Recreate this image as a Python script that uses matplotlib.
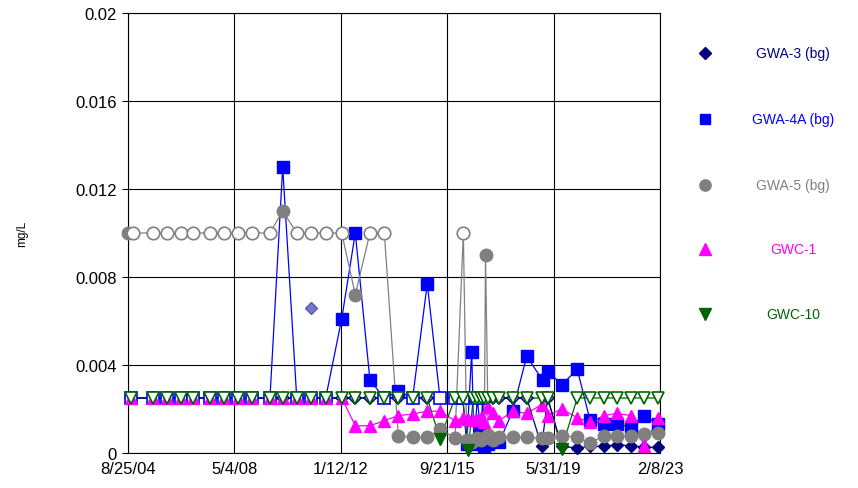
import pandas as pd
import numpy as np
import matplotlib
matplotlib.use("Agg")
import matplotlib.pyplot as plt

plt.rcParams['font.family'] = ['Liberation Sans', 'DejaVu Sans']

# ---- Data (mg/L), nd = 1 means non-detect (hollow marker) ----
early_dates = ['2004-10-05', '2005-07-12', '2005-12-28', '2006-06-24', '2006-11-30',
               '2007-06-30', '2007-12-24', '2008-06-23', '2008-12-17', '2009-07-29',
               '2010-01-06', '2010-07-03', '2010-12-31', '2011-07-05', '2012-01-24',
               '2012-07-14', '2013-01-16', '2013-07-17', '2014-01-10', '2014-07-11',
               '2015-01-12', '2015-06-22', '2015-12-29']
late_dates = ['2016-04-05', '2016-06-15', '2016-08-17', '2016-10-07', '2016-11-19',
              '2017-01-04', '2017-02-23', '2017-04-20', '2017-07-13', '2017-12-29',
              '2018-06-25', '2019-01-01', '2019-03-18', '2019-09-11', '2020-03-27',
              '2020-09-04', '2021-02-28', '2021-08-12', '2022-02-06', '2022-07-20',
              '2023-01-18']

# GWA-3 (bg)
gwa3_dates = early_dates + late_dates
gwa3_vals = [0.0025] * 23 + [0.0025] * 11 + [0.0003, 0.0025, 0.0003, 0.00023, 0.0003,
                                            0.0003, 0.00038, 0.00033, 0.00026, 0.00026]
gwa3_nd = [1] * 23 + [1] * 11 + [0, 1, 0, 0, 0, 0, 0, 0, 0, 0]
gwa3_flag_dates = ['2010-12-31']
gwa3_flag_vals = [0.0066]

# GWA-4A (bg)
gwa4a_dates = early_dates + ['2016-04-05', '2016-05-26', '2016-07-28', '2016-08-26', '2016-10-07',
                             '2016-11-19', '2016-12-15', '2017-01-04', '2017-02-23', '2017-04-20',
                             '2017-07-13', '2017-12-29', '2018-06-25', '2019-01-14', '2019-03-26',
                             '2019-09-11', '2020-03-27', '2020-09-04', '2021-02-28', '2021-08-12',
                             '2022-02-06', '2022-07-20', '2023-01-18']
gwa4a_vals = [0.0025] * 10 + [0.013, 0.0025, 0.0025, 0.0025, 0.0061, 0.01, 0.0033, 0.0025,
                              0.0028, 0.0025, 0.0077, 0.0025, 0.0025] + \
             [0.0025, 0.0004, 0.0046, 0.0004, 0.0025, 0.0009, 0.0025, 0.0003, 0.0004, 0.0006,
              0.0005, 0.0019, 0.0044, 0.0033, 0.0037, 0.0031, 0.0038, 0.0015, 0.0013, 0.0013,
              0.0012, 0.0017, 0.0013]
gwa4a_nd = [1] * 10 + [0, 1, 1, 1, 0, 0, 0, 1, 0, 1, 0, 1, 1] + \
           [1, 0, 0, 0, 1, 0, 1] + [0] * 16

# GWA-5 (bg)
gwa5_dates = ['2004-08-25', '2004-10-31', '2005-07-12', '2005-12-28', '2006-06-24', '2006-11-30',
              '2007-06-30', '2007-12-24', '2008-06-23', '2008-12-17', '2009-07-29', '2010-01-06',
              '2010-07-03', '2010-12-31', '2011-07-05', '2012-01-24', '2012-07-14', '2013-01-16',
              '2013-07-17', '2014-01-10', '2014-07-11', '2015-01-12', '2015-06-22', '2015-12-29',
              '2016-04-13', '2016-05-26', '2016-07-28', '2016-08-26', '2016-10-07', '2016-11-19',
              '2017-01-04', '2017-01-19', '2017-02-23', '2017-04-20', '2017-07-13', '2017-12-29',
              '2018-06-25', '2019-01-01', '2019-03-18', '2019-09-11', '2020-03-27', '2020-09-04',
              '2021-02-28', '2021-08-12', '2022-02-06', '2022-07-20', '2023-01-18']
gwa5_vals = [0.01] * 11 + [0.011, 0.01, 0.01, 0.01, 0.01, 0.0072, 0.01, 0.01,
                           0.00079, 0.00071, 0.00071, 0.0011, 0.00067, 0.01,
                           0.0006, 0.0005, 0.0006, 0.0007, 0.0006, 0.0007, 0.009, 0.0008,
                           0.0006, 0.00071, 0.00071, 0.00071, 0.00067, 0.00067, 0.00079,
                           0.00071, 0.00045, 0.00079, 0.00079, 0.00076, 0.00086, 0.00091]
gwa5_nd = [0] + [1] * 10 + [0, 1, 1, 1, 1, 0, 1, 1] + [0] * 5 + [1] + [0] * 22

# GWC-1
gwc1_dates = early_dates + late_dates
gwc1_vals = [0.0025] * 15 + [0.00124, 0.00124, 0.00147, 0.0017, 0.00177, 0.0019, 0.0019, 0.00147] + \
            [0.0016, 0.00155, 0.0015, 0.0015, 0.0016, 0.0014, 0.0021, 0.0018, 0.00147, 0.0019,
             0.0018, 0.0022, 0.0017, 0.002, 0.0016, 0.0014, 0.0017, 0.0018, 0.0017, 0.00033, 0.0016]
gwc1_nd = [0] * 44

# GWC-10
gwc10_dates = early_dates + late_dates
gwc10_vals = [0.0025] * 21 + [0.00064, 0.0025] + [0.0025, 0.00015] + [0.0025] * 11 + \
             [0.0002] + [0.0025] * 7
gwc10_nd = [1] * 21 + [0, 1] + [1, 0] + [1] * 11 + [0] + [1] * 7

tick_dates = ['2004-08-25', '2008-05-04', '2012-01-12', '2015-09-21', '2019-05-31', '2023-02-08']
tick_labels = ['8/25/04', '5/4/08', '1/12/12', '9/21/15', '5/31/19', '2/8/23']
y_ticks = [0, 0.004, 0.008, 0.012, 0.016, 0.02]
y_labels = ['0', '0.004', '0.008', '0.012', '0.016', '0.02']

names = ['GWA-3 (bg)', 'GWA-4A (bg)', 'GWA-5 (bg)', 'GWC-1', 'GWC-10']
colors = ['#000080', '#0000FF', '#808080', '#FF00FF', '#006400']
markers = ['D', 's', 'o', '^', 'v']
sizes = [6.5, 8.5, 9, 9, 9]

series = [(gwa3_dates, gwa3_vals, gwa3_nd),
          (gwa4a_dates, gwa4a_vals, gwa4a_nd),
          (gwa5_dates, gwa5_vals, gwa5_nd),
          (gwc1_dates, gwc1_vals, gwc1_nd),
          (gwc10_dates, gwc10_vals, gwc10_nd)]

# ---- Plot ----
fig = plt.figure(figsize=(8.58, 4.89), dpi=100)
ax = fig.add_axes([128 / 858, 35 / 489, 532 / 858, 440 / 489])

line_z = [2.6, 2.1, 2.2, 2.3, 2.4]
for i, (d, v, nd) in enumerate(series):
    d = pd.to_datetime(d)
    v = np.array(v)
    nd = np.array(nd, dtype=bool)
    ax.plot(d, v, color=colors[i], lw=0.9, zorder=line_z[i], clip_on=False)
    ax.plot(d[~nd], v[~nd], ls='none', marker=markers[i], ms=sizes[i],
            mfc=colors[i], mec=colors[i], zorder=3 + i, clip_on=False)
    ax.plot(d[nd], v[nd], ls='none', marker=markers[i], ms=sizes[i],
            mfc='white', mec=colors[i], mew=1.2, zorder=3 + i, clip_on=False)

ax.plot(pd.to_datetime(gwa3_flag_dates), gwa3_flag_vals, ls='none', marker='D', ms=6,
        mfc='#7878c8', mec='#5a5ab4', zorder=3)

ax.set_xlim(pd.Timestamp('2004-08-25'), pd.Timestamp('2023-02-08'))
ax.set_ylim(0, 0.02)
ax.set_xticks(pd.to_datetime(tick_dates))
ax.set_xticklabels(tick_labels, fontsize=12)
ax.set_yticks(y_ticks)
ax.set_yticklabels(y_labels, fontsize=12)
ax.tick_params(axis='x', length=0, pad=6)
ax.tick_params(axis='y', length=4, width=0.8, direction='out', pad=4)
ax.grid(True, color='black', lw=0.8)
ax.set_axisbelow(True)
for s in ax.spines.values():
    s.set_color('black')
    s.set_linewidth(0.8)

fig.text(22 / 858, 1 - 234 / 489, 'mg/L', rotation=90, fontsize=8.5,
         ha='center', va='center')

# ---- Legend ----
lax = fig.add_axes([0, 0, 1, 1], facecolor='none')
lax.set_xlim(0, 858)
lax.set_ylim(489, 0)
lax.axis('off')
leg_y = [54, 120, 186, 250, 315]
for i in range(5):
    lax.plot([705], [leg_y[i]], ls='none', marker=markers[i], ms=sizes[i] * 0.9,
             mfc=colors[i], mec=colors[i])
    lax.text(793, leg_y[i], names[i], color=colors[i], fontsize=10,
             ha='center', va='center')

plt.savefig('out.png', dpi=100)
